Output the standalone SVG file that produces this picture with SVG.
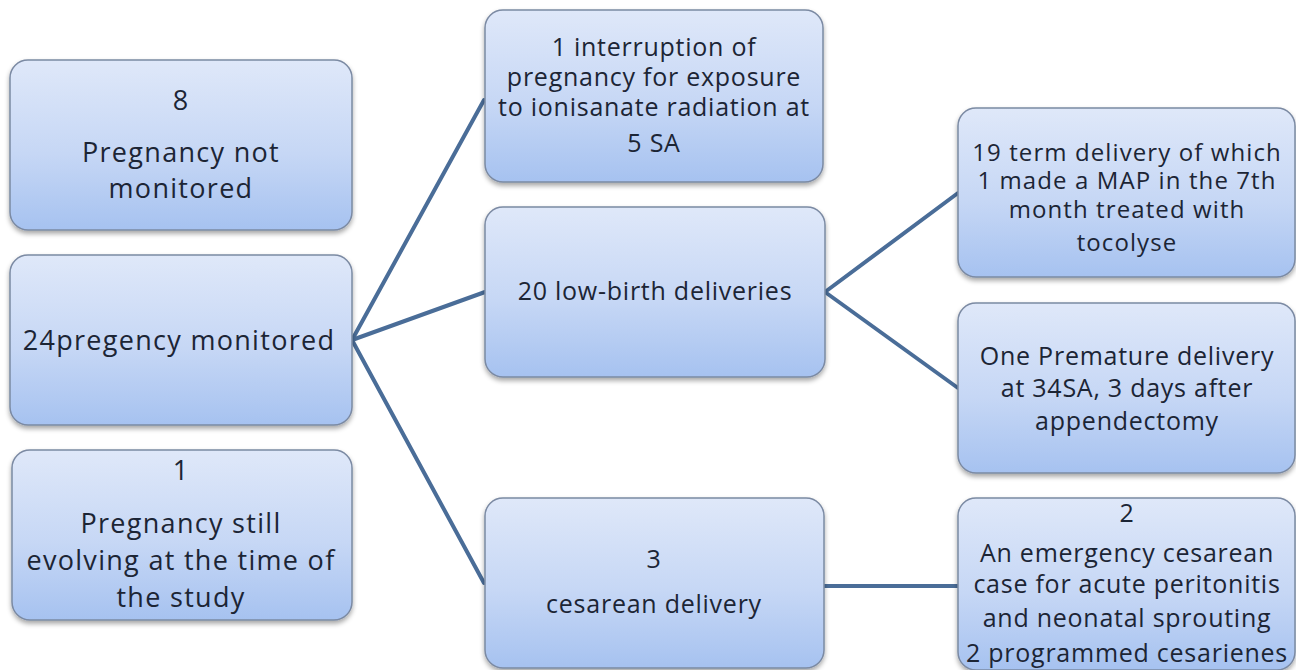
<svg xmlns="http://www.w3.org/2000/svg" width="1296" height="670" viewBox="0 0 1296 670">
<defs>
<linearGradient id="g" x1="0" y1="0" x2="0" y2="1">
<stop offset="0" stop-color="#dfe8f9"/>
<stop offset="0.55" stop-color="#c6d7f5"/>
<stop offset="1" stop-color="#a6c2f0"/>
</linearGradient>
<filter id="sh" x="-10%" y="-10%" width="120%" height="125%">
<feGaussianBlur in="SourceAlpha" stdDeviation="2.5"/>
<feOffset dx="0" dy="3" result="b"/>
<feComponentTransfer><feFuncA type="linear" slope="0.35"/></feComponentTransfer>
<feMerge><feMergeNode/><feMergeNode in="SourceGraphic"/></feMerge>
</filter>
</defs>
<style>
.box{fill:url(#g);stroke:#7b8aa3;stroke-width:1.5;filter:url(#sh)}
text{font-family:"Open Sans","Liberation Sans",sans-serif;fill:#1c2535;text-anchor:middle}
.l{font-size:27px;letter-spacing:1.3px}
.m{font-size:25px;letter-spacing:0.75px}
.r{font-size:24px;letter-spacing:1.1px}
.c{stroke:#4a6d98;stroke-width:4;fill:none;stroke-linecap:round}
</style>
<rect width="1296" height="670" fill="#ffffff"/>
<g id="connectors">
<line class="c" x1="352" y1="340" x2="484" y2="100"/>
<line class="c" x1="352" y1="340" x2="485" y2="292"/>
<line class="c" x1="352" y1="340" x2="484" y2="583"/>
<line class="c" x1="825" y1="292" x2="958" y2="193"/>
<line class="c" x1="825" y1="292" x2="958" y2="388"/>
<line class="c" x1="824" y1="586" x2="958" y2="586"/>
</g>
<g id="n1">
<rect class="box" x="10" y="60" width="342" height="170" rx="18"/>
<text class="l" x="181" y="110">8</text>
<text class="l" x="181" y="162">Pregnancy not</text>
<text class="l" x="181" y="198">monitored</text>
</g>
<g id="n2">
<rect class="box" x="10" y="255" width="342" height="170" rx="18"/>
<text class="l" x="179" y="350">24pregency monitored</text>
</g>
<g id="n3">
<rect class="box" x="12" y="450" width="340" height="170" rx="18"/>
<text class="l" x="181" y="480">1</text>
<text class="l" x="181" y="533">Pregnancy still</text>
<text class="l" x="181" y="570">evolving at the time of</text>
<text class="l" x="181" y="607">the study</text>
</g>
<g id="nA">
<rect class="box" x="485" y="10" width="338" height="172" rx="18"/>
<text class="m" x="654" y="56">1 interruption of</text>
<text class="m" x="654" y="86">pregnancy for exposure</text>
<text class="m" x="654" y="116">to ionisanate radiation at</text>
<text class="m" x="654" y="152">5 SA</text>
</g>
<g id="nB">
<rect class="box" x="485" y="207" width="340" height="170" rx="18"/>
<text class="m" x="655" y="300">20 low-birth deliveries</text>
</g>
<g id="nC">
<rect class="box" x="485" y="498" width="339" height="170" rx="18"/>
<text class="m" x="654" y="568">3</text>
<text class="m" x="654" y="613">cesarean delivery</text>
</g>
<g id="nR1">
<rect class="box" x="958" y="108" width="337" height="169" rx="18"/>
<text class="r" x="1127" y="161">19 term delivery of which</text>
<text class="r" x="1127" y="189">1 made a MAP in the 7th</text>
<text class="r" x="1127" y="218">month treated with</text>
<text class="r" x="1127" y="251">tocolyse</text>
</g>
<g id="nR2">
<rect class="box" x="958" y="303" width="337" height="170" rx="18"/>
<text class="m" x="1127" y="365">One Premature delivery</text>
<text class="m" x="1127" y="397">at 34SA, 3 days after</text>
<text class="m" x="1127" y="430">appendectomy</text>
</g>
<g id="nR3">
<rect class="box" x="958" y="498" width="337" height="172" rx="18"/>
<text class="m" x="1127" y="522">2</text>
<text class="m" x="1127" y="562">An emergency cesarean</text>
<text class="m" x="1127" y="593">case for acute peritonitis</text>
<text class="m" x="1127" y="627">and neonatal sprouting</text>
<text class="m" x="1127" y="662">2 programmed cesarienes</text>
</g>
</svg>
